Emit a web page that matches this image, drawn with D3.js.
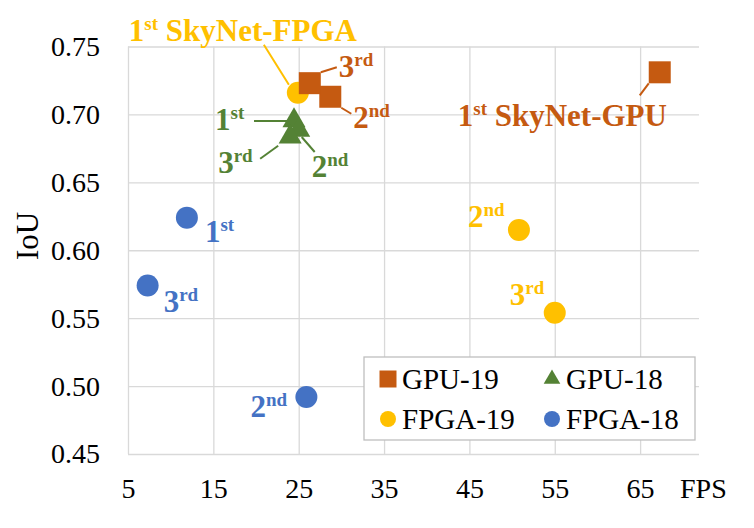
<!DOCTYPE html>
<html>
<head>
<meta charset="utf-8">
<script src="https://cdn.jsdelivr.net/npm/d3@7"></script>
<style>
  body { margin: 0; background: #fff; }
  text { font-family: "Liberation Serif", "Times New Roman", serif; }
</style>
</head>
<body>
<div id="chart"></div>
<script>
// data
const seriesNames = ['GPU-19', 'GPU-18', 'FPGA-19', 'FPGA-18'];
const ranks = ['1', '2', '3'];
const rankSup = ['st', 'nd', 'rd'];

const gpu19Fps = [67.3, 28.7, 26.3];
const gpu19IoU = [0.731, 0.713, 0.723];
const gpu18Fps = [24.45, 25.0, 24.0];
const gpu18IoU = [0.697, 0.690, 0.685];
const fpga19Fps = [24.9, 50.8, 55.0];
const fpga19IoU = [0.716, 0.615, 0.554];
const fpga18Fps = [11.9, 25.9, 7.3];
const fpga18IoU = [0.624, 0.492, 0.574];

const xTicks = [5, 15, 25, 35, 45, 55, 65];
const yTicks = [0.45, 0.50, 0.55, 0.60, 0.65, 0.70, 0.75];

const colors = { 'GPU-19': '#C55A11', 'GPU-18': '#548235', 'FPGA-19': '#FFC000', 'FPGA-18': '#4472C4' };
const shapes = { 'GPU-19': d3.symbolSquare, 'GPU-18': d3.symbolTriangle, 'FPGA-19': d3.symbolCircle, 'FPGA-18': d3.symbolCircle };

// label placement relative to each marker: text start, and optional leader line
const labelLayout = {
  'GPU-19': [
    { dx: -202, dy: 54, extra: ' SkyNet-GPU', line: [-11, 11, -20, 23] },
    { dx: 23, dy: 31, line: [11, 11, 21, 17] },
    { dx: 29, dy: -6, line: [11, -11, 27, -16] }
  ],
  'GPU-18': [
    { dx: -79, dy: 12, line: [-40, 2.5, 0, 2.5] },
    { dx: 13, dy: 49, line: [3, 9, 16, 24] },
    { dx: -72, dy: 38, line: [-30, 24, -12, 11] }
  ],
  'FPGA-19': [
    { dx: -169, dy: -52, extra: ' SkyNet-FPGA', line: [-34, -48, -9, -8] },
    { dx: -51, dy: -3 },
    { dx: -45, dy: -8 }
  ],
  'FPGA-18': [
    { dx: 18, dy: 24 },
    { dx: -56, dy: 20 },
    { dx: 16, dy: 26 }
  ]
};

const table = {
  'GPU-19': gpu19Fps.map((f, i) => ({ fps: f, iou: gpu19IoU[i], rank: i })),
  'GPU-18': gpu18Fps.map((f, i) => ({ fps: f, iou: gpu18IoU[i], rank: i })),
  'FPGA-19': fpga19Fps.map((f, i) => ({ fps: f, iou: fpga19IoU[i], rank: i })),
  'FPGA-18': fpga18Fps.map((f, i) => ({ fps: f, iou: fpga18IoU[i], rank: i }))
};

const width = 754, height = 528;
const plotLeft = 128, plotRight = 699, plotTop = 46.5, plotBottom = 454;

const x = d3.scaleLinear().domain([5, 71.9]).range([plotLeft, plotRight]);
const y = d3.scaleLinear().domain([0.45, 0.75]).range([plotBottom, plotTop]);

const svg = d3.select('#chart').append('svg')
  .attr('width', width)
  .attr('height', height);

// grid
svg.append('g')
  .attr('transform', `translate(0,${plotBottom})`)
  .call(d3.axisBottom(x).tickValues(xTicks).tickSize(-(plotBottom - plotTop)).tickFormat(''))
  .call(g => g.select('.domain').remove())
  .call(g => g.selectAll('line').attr('stroke', '#D9D9D9').attr('stroke-width', 1.3));

svg.append('g')
  .attr('transform', `translate(${plotLeft},0)`)
  .call(d3.axisLeft(y).tickValues(yTicks).tickSize(-(plotRight - plotLeft)).tickFormat(''))
  .call(g => g.select('.domain').remove())
  .call(g => g.selectAll('line').attr('stroke', '#D9D9D9').attr('stroke-width', 1.3));

// tick labels
svg.append('g')
  .attr('transform', `translate(${plotLeft},0)`)
  .call(d3.axisLeft(y).tickValues(yTicks).tickSize(0).tickPadding(28).tickFormat(d3.format('.2f')))
  .call(g => g.select('.domain').remove())
  .call(g => g.selectAll('text').attr('font-size', 28).attr('fill', '#000')
    .attr('font-family', '"Liberation Serif", serif'));

svg.append('g')
  .attr('transform', `translate(0,${plotBottom})`)
  .call(d3.axisBottom(x).tickValues(xTicks).tickSize(0).tickPadding(0).tickFormat(d3.format('d')))
  .call(g => g.select('.domain').remove())
  .call(g => g.selectAll('text').attr('font-size', 28).attr('fill', '#000').attr('dy', null).attr('y', 44)
    .attr('font-family', '"Liberation Serif", serif'));

svg.append('text')
  .attr('x', 680).attr('y', 498)
  .attr('font-size', 28)
  .text('FPS');

svg.append('text')
  .attr('transform', 'translate(38,236) rotate(-90)')
  .attr('text-anchor', 'middle')
  .attr('font-size', 31)
  .text('IoU');

// leader lines under markers
seriesNames.forEach(name => {
  table[name].forEach(d => {
    const lay = labelLayout[name][d.rank];
    if (!lay.line) return;
    const px = x(d.fps), py = y(d.iou);
    svg.append('line')
      .attr('x1', px + lay.line[0]).attr('y1', py + lay.line[1])
      .attr('x2', px + lay.line[2]).attr('y2', py + lay.line[3])
      .attr('stroke', colors[name])
      .attr('stroke-width', 2);
  });
});

// markers
const markerSize = { 'GPU-19': 22 * 22, 'GPU-18': 230, 'FPGA-19': Math.PI * 11 * 11, 'FPGA-18': Math.PI * 11 * 11 };
['FPGA-18', 'GPU-18', 'FPGA-19', 'GPU-19'].forEach(name => {
  svg.append('g').selectAll('path')
    .data(table[name])
    .join('path')
    .attr('transform', d => `translate(${x(d.fps)},${y(d.iou) + (name === 'GPU-18' ? 2 : 0)})`)
    .attr('d', d3.symbol().type(shapes[name]).size(markerSize[name]))
    .attr('fill', colors[name]);
});

// labels
seriesNames.forEach(name => {
  table[name].forEach(d => {
    const lay = labelLayout[name][d.rank];
    const t = svg.append('text')
      .attr('x', x(d.fps) + lay.dx)
      .attr('y', y(d.iou) + lay.dy)
      .attr('fill', colors[name])
      .attr('font-weight', 'bold')
      .attr('font-size', 31);
    t.append('tspan').text(ranks[d.rank]);
    t.append('tspan').attr('font-size', 19).attr('dy', -11).text(rankSup[d.rank]);
    if (lay.extra) t.append('tspan').attr('dy', 11).text(lay.extra);
  });
});

// legend
const legend = svg.append('g');
legend.append('rect')
  .attr('x', 364).attr('y', 357).attr('width', 331).attr('height', 83)
  .attr('fill', '#fff').attr('stroke', '#BFBFBF').attr('stroke-width', 1.3);

const legendPos = [[388, 379], [552, 379], [388, 419], [552, 419]];
const legendSize = { 'GPU-19': 17 * 17, 'GPU-18': 120, 'FPGA-19': Math.PI * 8 * 8, 'FPGA-18': Math.PI * 8 * 8 };
seriesNames.forEach((name, i) => {
  const [lx, ly] = legendPos[i];
  legend.append('path')
    .attr('transform', `translate(${lx},${ly})`)
    .attr('d', d3.symbol().type(shapes[name]).size(legendSize[name]))
    .attr('fill', colors[name]);
  legend.append('text')
    .attr('x', lx + 14).attr('y', ly + 10)
    .attr('font-size', 29)
    .text(name);
});
</script>
</body>
</html>
